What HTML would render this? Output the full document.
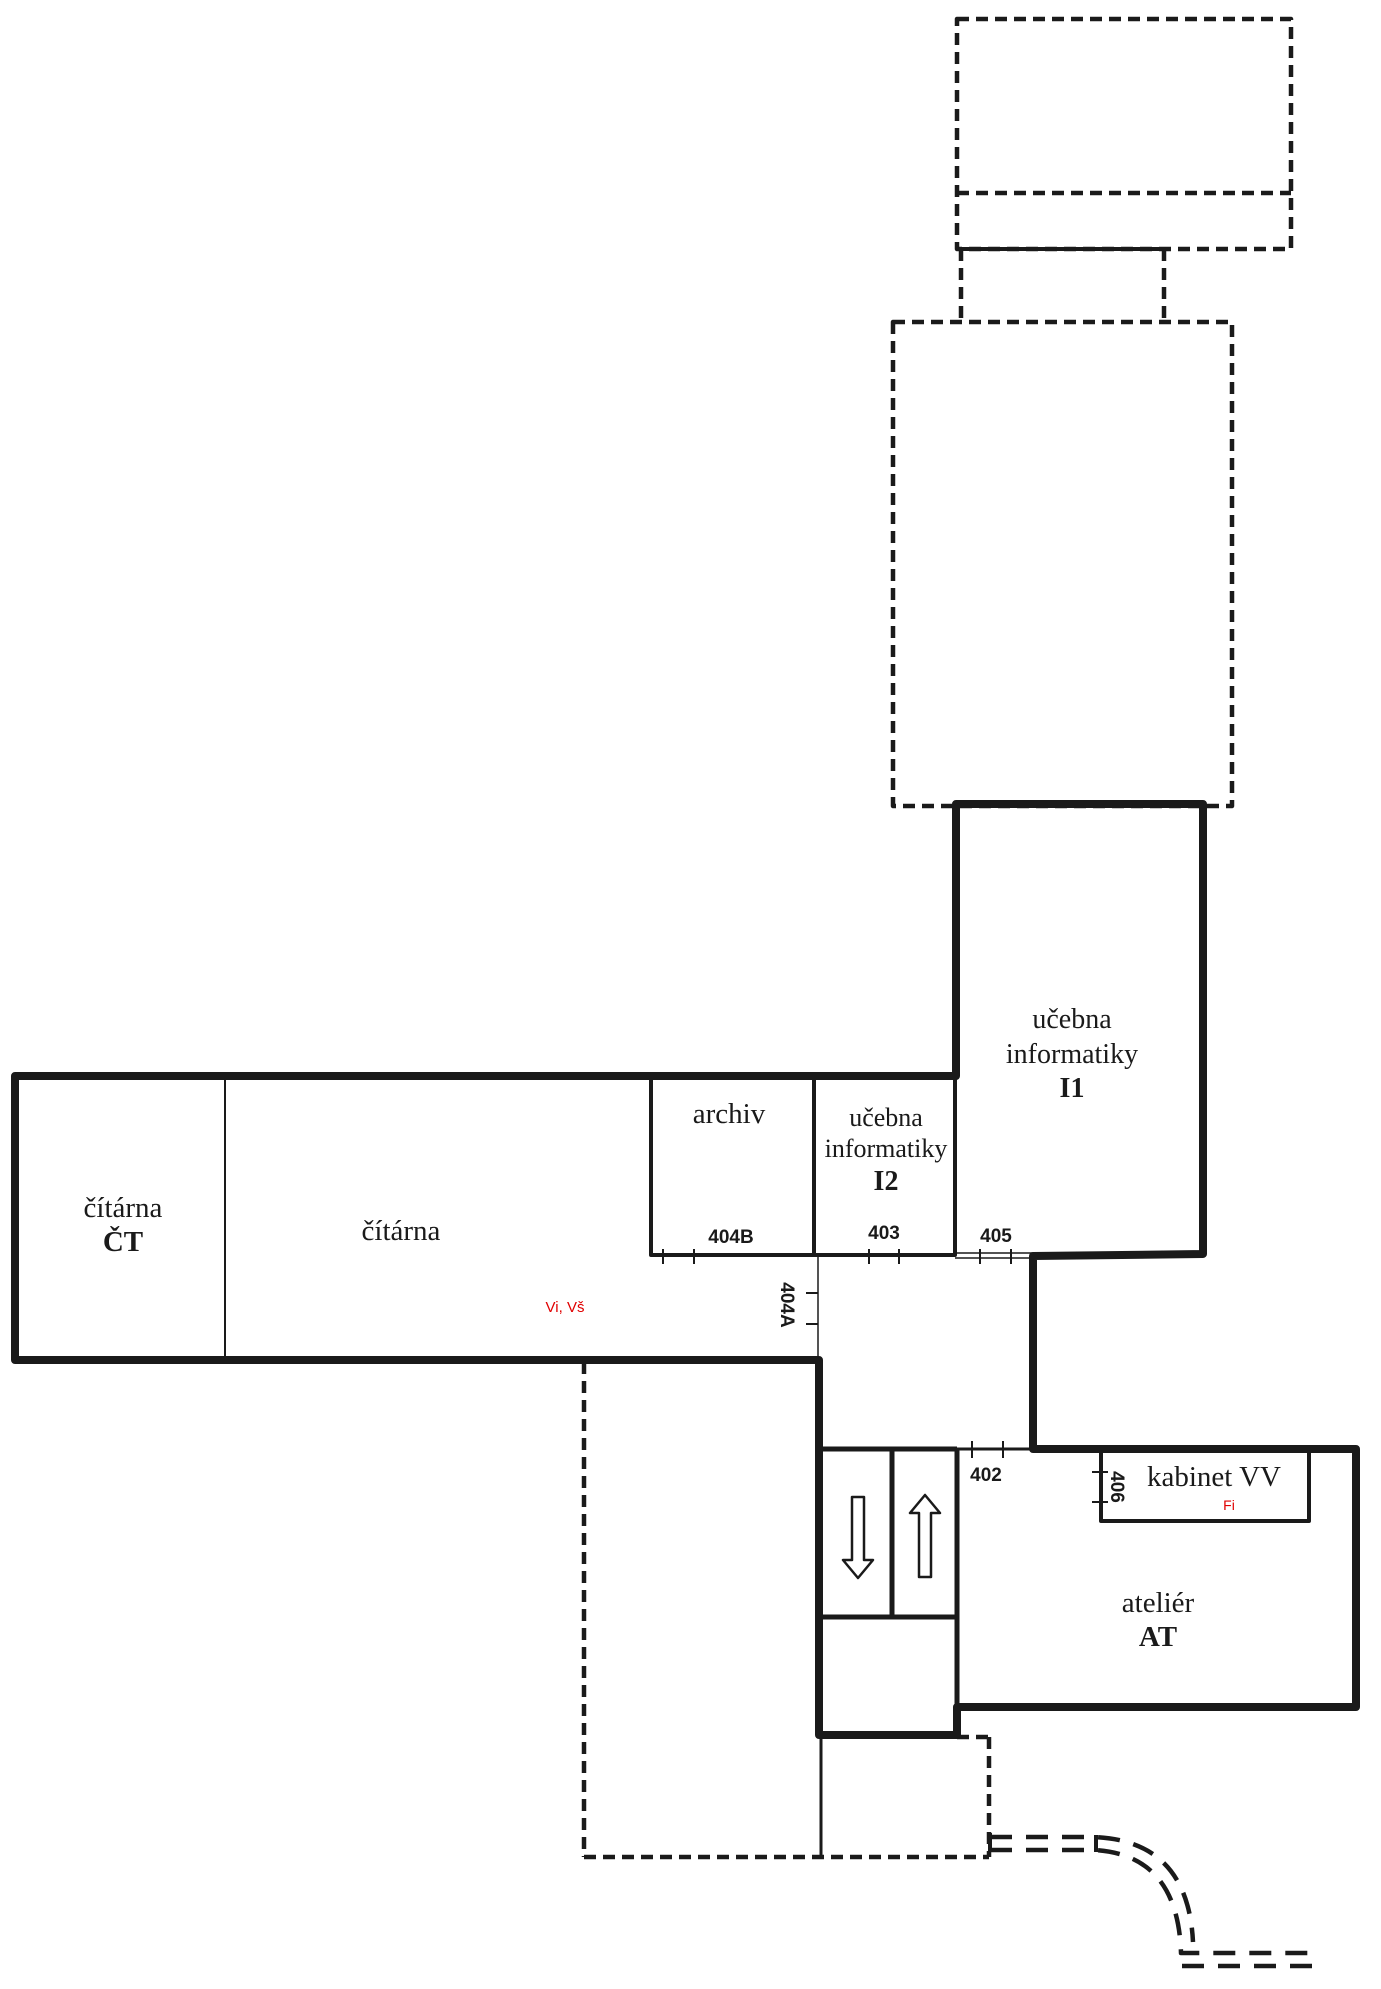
<!DOCTYPE html>
<html><head><meta charset="utf-8"><style>
html,body{margin:0;padding:0;background:#fff;}
svg{display:block;}
.s{font-family:"Liberation Serif",serif;fill:#1a1a1a;}
.b{font-family:"Liberation Sans",sans-serif;font-weight:bold;fill:#1a1a1a;}
.r{font-family:"Liberation Sans",sans-serif;fill:#e00000;}
</style></head><body>
<svg width="1381" height="1989" viewBox="0 0 1381 1989" xmlns="http://www.w3.org/2000/svg">
<g fill="none" stroke="#1a1a1a" stroke-linejoin="round">
<g stroke-width="4.5" stroke-dasharray="12,7">
<rect x="957" y="19" width="334" height="230"/>
<line x1="957" y1="193" x2="1291" y2="193"/>
<line x1="961" y1="249" x2="961" y2="322"/>
<line x1="1164" y1="249" x2="1164" y2="322"/>
<rect x="893" y="322" width="339" height="484"/>
<line x1="584" y1="1362" x2="584" y2="1857"/>
<line x1="584" y1="1857" x2="989" y2="1857"/>
<line x1="957" y1="1737" x2="989" y2="1737"/>
<line x1="989" y1="1737" x2="989" y2="1857"/>
</g>
<line x1="961" y1="249" x2="1164" y2="249" stroke-width="4"/>
<g stroke-width="4.5" stroke-dasharray="22,14">
<path d="M990,1837 H1093 Q1188,1840 1193,1942"/>
<path d="M990,1850 H1095 Q1178,1855 1181,1953 H1308"/>
<path d="M1182,1966 H1312"/>
</g>
<line x1="990" y1="1833" x2="990" y2="1852" stroke-width="4"/>
<line x1="1096" y1="1835" x2="1096" y2="1852" stroke-width="4"/>
<path d="M15,1076 H956 V804 H1203 V1254 L1033,1256 V1449 H1356 V1707 H957 V1735 H819 V1360 H15 Z" stroke-width="8"/>
<line x1="821" y1="1735" x2="821" y2="1857" stroke-width="3"/>
<line x1="225" y1="1076" x2="225" y2="1360" stroke-width="2"/>
<path d="M651,1076 V1255 H955 V1076" stroke-width="4"/>
<line x1="814" y1="1076" x2="814" y2="1255" stroke-width="4"/>
<line x1="955" y1="1253" x2="1033" y2="1253" stroke-width="1.5"/>
<line x1="955" y1="1258" x2="1033" y2="1258" stroke-width="1.5"/>
<line x1="818" y1="1255" x2="818" y2="1360" stroke-width="1.5"/>
<g stroke-width="2">
<line x1="663" y1="1249" x2="663" y2="1264"/><line x1="694" y1="1249" x2="694" y2="1264"/>
<line x1="869" y1="1249" x2="869" y2="1264"/><line x1="899" y1="1249" x2="899" y2="1264"/>
<line x1="980" y1="1249" x2="980" y2="1264"/><line x1="1011" y1="1249" x2="1011" y2="1264"/>
<line x1="806" y1="1293" x2="818" y2="1293"/><line x1="806" y1="1324" x2="818" y2="1324"/>
<line x1="972" y1="1441" x2="972" y2="1458"/><line x1="1003" y1="1441" x2="1003" y2="1458"/>
<line x1="1092" y1="1472" x2="1108" y2="1472"/><line x1="1092" y1="1502" x2="1108" y2="1502"/>
</g>
<line x1="819" y1="1449" x2="957" y2="1449" stroke-width="5"/>
<line x1="957" y1="1449" x2="1033" y2="1449" stroke-width="3"/>
<line x1="892" y1="1449" x2="892" y2="1617" stroke-width="5"/>
<line x1="957" y1="1449" x2="957" y2="1707" stroke-width="5"/>
<line x1="819" y1="1617" x2="957" y2="1617" stroke-width="5"/>
<path d="M852,1497 H864 V1560 H873 L858,1578 L843,1560 H852 Z" stroke-width="2.5"/>
<path d="M919,1577 H931 V1513 H940 L925,1495 L910,1513 H919 Z" stroke-width="2.5"/>
<path d="M1101,1449 V1521 H1309 V1449" stroke-width="4"/>
</g>
<text class="s" x="123" y="1217" font-size="29" text-anchor="middle">čítárna</text>
<text class="s" x="123" y="1251" font-size="29" font-weight="bold" text-anchor="middle">ČT</text>
<text class="s" x="401" y="1240" font-size="29" text-anchor="middle">čítárna</text>
<text class="r" x="565" y="1312" font-size="15" text-anchor="middle">Vi, Vš</text>
<text class="s" x="729" y="1123" font-size="29" text-anchor="middle">archiv</text>
<text class="s" x="886" y="1126" font-size="26" text-anchor="middle">učebna</text>
<text class="s" x="886" y="1157" font-size="26" text-anchor="middle">informatiky</text>
<text class="s" x="886" y="1190" font-size="28" font-weight="bold" text-anchor="middle">I2</text>
<text class="s" x="1072" y="1028" font-size="28" text-anchor="middle">učebna</text>
<text class="s" x="1072" y="1063" font-size="28" text-anchor="middle">informatiky</text>
<text class="s" x="1072" y="1097" font-size="28" font-weight="bold" text-anchor="middle">I1</text>
<text class="b" x="731" y="1243" font-size="19" text-anchor="middle">404B</text>
<text class="b" x="884" y="1239" font-size="19" text-anchor="middle">403</text>
<text class="b" x="996" y="1242" font-size="19" text-anchor="middle">405</text>
<text class="b" font-size="19" text-anchor="middle" transform="translate(788,1305) rotate(90)" dy="7">404A</text>
<text class="b" x="986" y="1481" font-size="19" text-anchor="middle">402</text>
<text class="b" font-size="19" text-anchor="middle" transform="translate(1118,1487) rotate(90)" dy="7">406</text>
<text class="s" x="1214" y="1486" font-size="29" text-anchor="middle">kabinet VV</text>
<text class="r" x="1229" y="1510" font-size="14" text-anchor="middle">Fi</text>
<text class="s" x="1158" y="1612" font-size="29" text-anchor="middle">ateliér</text>
<text class="s" x="1158" y="1646" font-size="29" font-weight="bold" text-anchor="middle">AT</text>
</svg>
</body></html>
